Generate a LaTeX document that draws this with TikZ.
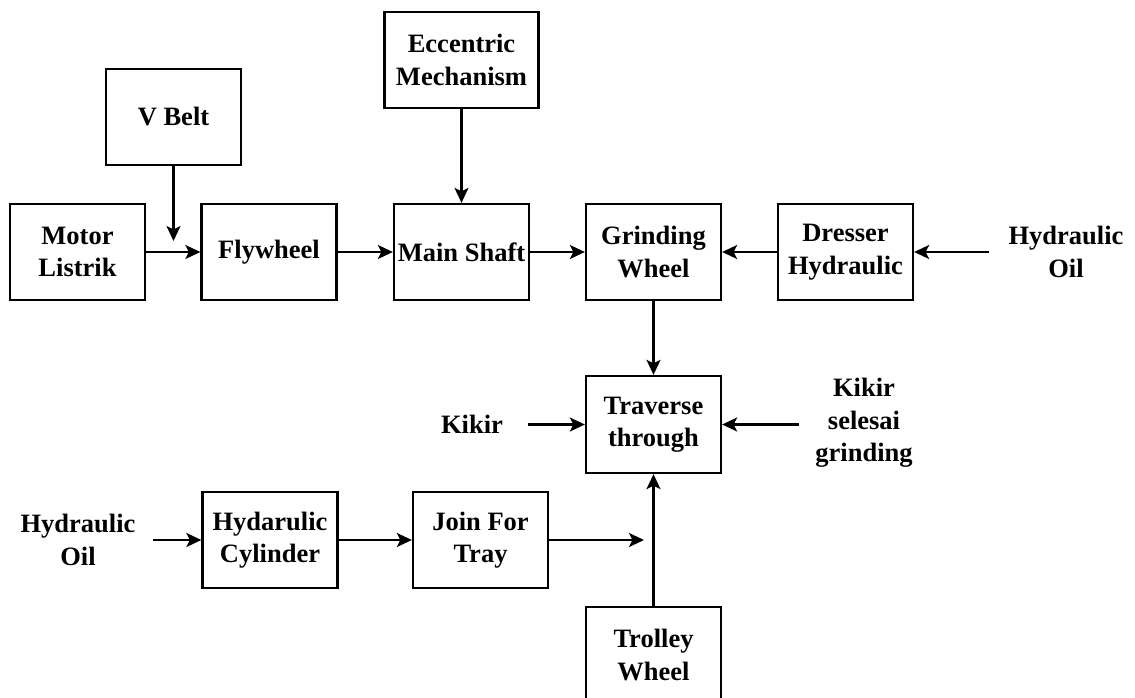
\documentclass[tikz,border=0pt]{standalone}
\usepackage{fontspec}
\setmainfont{Liberation Serif}
\usetikzlibrary{arrows.meta}

\tikzset{
  blk/.style={draw, line width=2.3pt, inner sep=0pt, minimum width=135pt,
    minimum height=96pt, align=center, font=\bfseries\fontsize{26.5}{32.5}\selectfont},
  lbl/.style={inner sep=0pt, align=center, font=\bfseries\fontsize{26.5}{32.5}\selectfont},
  arr/.style={line width=2.2pt, -{Stealth[length=15pt, width=14pt, inset=3.5pt]}},
}

\begin{document}
\begin{tikzpicture}[x=1pt, y=-1pt]
\useasboundingbox (0,0) rectangle (1135,697);
\clip (0,0) rectangle (1135,697);

% blocks
\node[blk, minimum width=154pt] (ecc) at (461.5,60) {Eccentric\\Mechanism};
\node[blk] (vbelt) at (173.5,117) {V Belt};
\node[blk] (motor) at (77.5,252) {Motor\\Listrik};
\node[blk] (fly) at (269,252) {Flywheel};
\node[blk] (shaft) at (461.5,252) {Main Shaft};
\node[blk] (grind) at (653.5,252) {Grinding\\Wheel};
\node[blk] (dresser) at (845.5,252) {Dresser\\Hydraulic};
\node[blk, minimum height=97pt] (trav) at (653.5,424.5) {Traverse\\through};
\node[blk] (cyl) at (270,540) {Hydarulic\\Cylinder};
\node[blk] (join) at (480.5,540) {Join For\\Tray};
\node[blk] (trolley) at (653.5,655) {Trolley\\Wheel};

% free labels
\node[lbl] (oilR) at (1066,252) {Hydraulic\\Oil};
\node[lbl] (kikir) at (472,424) {Kikir};
\node[lbl] (kikirS) at (864,423) {Kikir\\selesai\\grinding};
\node[lbl] (oilL) at (78,540) {Hydraulic\\Oil};

% free arrow ends
\coordinate (vbeltEnd) at (173.5,241);
\coordinate (joinEnd) at (644,540);

% connectors, top row
\draw[arr] (vbelt.south) -- (vbeltEnd);
\draw[arr] (motor.east) -- (fly.west);
\draw[arr] (fly.east) -- (shaft.west);
\draw[arr] (ecc.south) -- (shaft.north);
\draw[arr] (shaft.east) -- (grind.west);
\draw[arr] (dresser.west) -- (grind.east);
\draw[arr, shorten <=19pt] (oilR.west |- dresser.east) -- (dresser.east);

% connectors into the traverse
\draw[arr] (grind.south) -- (trav.north);
\draw[arr, shorten <=25pt] (kikir.east |- trav.west) -- (trav.west);
\draw[arr, shorten <=16pt] (kikirS.west |- trav.east) -- (trav.east);
\draw[arr] (trolley.north) -- (trav.south);

% bottom row
\draw[arr, shorten <=17pt] (oilL.east |- cyl.west) -- (cyl.west);
\draw[arr] (cyl.east) -- (join.west);
\draw[arr] (join.east) -- (joinEnd);
\end{tikzpicture}
\end{document}
